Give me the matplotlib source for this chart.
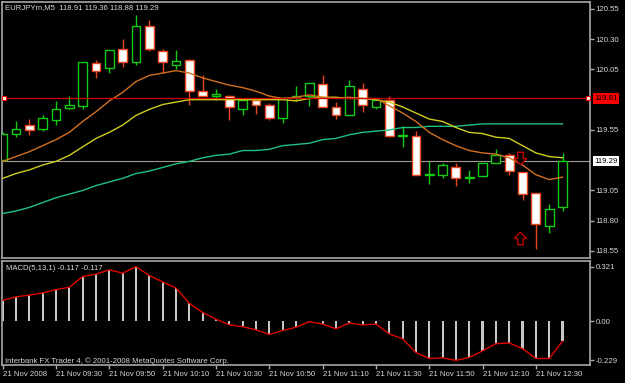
import matplotlib
matplotlib.use('Agg')
import matplotlib.pyplot as plt
from matplotlib.path import Path
import numpy as np

plt.rcParams['font.family'] = ['Liberation Sans', 'DejaVu Sans']

# EURJPYm M5, 21 Nov 2008, bars 09:10 .. 12:40
opens = [119.30, 119.52, 119.59, 119.56, 119.63, 119.73, 119.75, 120.10, 120.06, 120.22, 120.11,
         120.41, 120.20, 120.09, 120.13, 119.87, 119.83, 119.83, 119.72, 119.80, 119.76, 119.65,
         119.81, 119.83, 119.93, 119.74, 119.67, 119.89, 119.74, 119.80, 119.50, 119.50, 119.18,
         119.18, 119.24, 119.15, 119.17, 119.28, 119.34, 119.20, 119.03, 118.76, 118.91]
highs = [119.53, 119.62, 119.64, 119.67, 119.79, 119.83, 120.11, 120.13, 120.21, 120.30, 120.50,
         120.46, 120.22, 120.21, 120.14, 120.00, 119.89, 119.84, 119.81, 119.81, 119.77, 119.81,
         119.91, 119.94, 120.00, 119.78, 119.96, 119.94, 119.81, 119.83, 119.58, 119.54, 119.29,
         119.28, 119.28, 119.22, 119.28, 119.39, 119.36, 119.20, 119.03, 118.94, 119.36]
lows = [119.29, 119.49, 119.51, 119.54, 119.59, 119.72, 119.72, 119.98, 120.02, 120.07, 120.09,
        120.20, 120.02, 120.05, 119.76, 119.83, 119.80, 119.63, 119.67, 119.68, 119.63, 119.61,
        119.79, 119.75, 119.74, 119.64, 119.67, 119.70, 119.72, 119.49, 119.41, 119.18, 119.10,
        119.15, 119.09, 119.11, 119.16, 119.28, 119.18, 118.97, 118.57, 118.70, 118.88]
closes = [119.52, 119.56, 119.55, 119.65, 119.72, 119.76, 120.11, 120.04, 120.21, 120.11, 120.41,
          120.22, 120.11, 120.12, 119.87, 119.83, 119.85, 119.74, 119.80, 119.76, 119.65, 119.81,
          119.83, 119.94, 119.74, 119.67, 119.91, 119.76, 119.80, 119.50, 119.51, 119.18, 119.19,
          119.26, 119.15, 119.16, 119.28, 119.34, 119.21, 119.02, 118.77, 118.90, 119.29]

ma_fast = [119.29, 119.33, 119.37, 119.42, 119.47, 119.53, 119.62, 119.70, 119.79, 119.86, 119.95,
           120.00, 120.02, 120.04, 120.02, 119.98, 119.95, 119.92, 119.90, 119.87, 119.83, 119.81,
           119.82, 119.84, 119.82, 119.81, 119.82, 119.81, 119.81, 119.75, 119.69, 119.62, 119.53,
           119.47, 119.42, 119.38, 119.36, 119.35, 119.32, 119.26, 119.18, 119.14, 119.16]
ma_mid = [119.15, 119.19, 119.22, 119.26, 119.29, 119.34, 119.41, 119.48, 119.53, 119.59, 119.67,
          119.72, 119.76, 119.78, 119.80, 119.80, 119.80, 119.80, 119.80, 119.80, 119.80, 119.80,
          119.79, 119.81, 119.82, 119.82, 119.81, 119.81, 119.80, 119.78, 119.74, 119.69, 119.64,
          119.62, 119.57, 119.53, 119.52, 119.49, 119.48, 119.42, 119.36, 119.33, 119.32]
ma_slow = [118.86, 118.88, 118.91, 118.95, 118.99, 119.02, 119.05, 119.09, 119.12, 119.15, 119.19,
           119.21, 119.24, 119.27, 119.29, 119.32, 119.34, 119.35, 119.38, 119.38, 119.39, 119.42,
           119.43, 119.44, 119.47, 119.48, 119.51, 119.53, 119.54, 119.55, 119.57, 119.57, 119.58,
           119.58, 119.58, 119.59, 119.60, 119.60, 119.60, 119.60, 119.60, 119.60, 119.60]

macd = [0.123, 0.144, 0.154, 0.167, 0.186, 0.200, 0.263, 0.277, 0.302, 0.283, 0.321,
        0.269, 0.231, 0.196, 0.106, 0.052, 0.013, -0.021, -0.031, -0.050, -0.077, -0.054,
        -0.035, -0.002, -0.016, -0.044, -0.010, -0.021, -0.016, -0.073, -0.102, -0.183, -0.218,
        -0.214, -0.229, -0.212, -0.173, -0.131, -0.127, -0.160, -0.218, -0.218, -0.117]

price_ticks = [120.55, 120.30, 120.05, 119.55, 119.05, 118.80, 118.55]
macd_ticks = [0.321, 0.0, -0.229]
macd_tick_labels = ['0.321', '0.00', '-0.229']
hline_price = 119.81
bid_price = 119.29
arrow_bars = [38.8, 38.8]
arrow_prices = [119.32, 118.66]
time_tick_bars = [0, 4, 8, 12, 16, 20, 24, 28, 32, 36, 40]
time_tick_labels = ['21 Nov 2008', '21 Nov 09:30', '21 Nov 09:50', '21 Nov 10:10', '21 Nov 10:30',
                    '21 Nov 10:50', '21 Nov 11:10', '21 Nov 11:30', '21 Nov 11:50', '21 Nov 12:10',
                    '21 Nov 12:30']

FG = '#d8d8d8'
FRAME = '#a8a8a8'
UP = '#12cc12'
DOWN = '#e8461a'
FS = 5.6
W, H = 625.0, 383.0

# hollow block arrows (MT4 style)
down_arrow = Path([(-0.22, 0.5), (0.22, 0.5), (0.22, 0.0), (0.5, 0.0), (0.0, -0.5),
                   (-0.5, 0.0), (-0.22, 0.0), (-0.22, 0.5)], closed=True)
up_arrow = Path([(-0.22, -0.5), (0.22, -0.5), (0.22, 0.0), (0.5, 0.0), (0.0, 0.5),
                 (-0.5, 0.0), (-0.22, 0.0), (-0.22, -0.5)], closed=True)

fig = plt.figure(figsize=(6.25, 3.83), dpi=100, facecolor='black')
ax = fig.add_axes([2 / W, 1 - 258 / H, 588 / W, 256 / H])
ax2 = fig.add_axes([2 / W, 1 - 365 / H, 588 / W, 104 / H])

for a in (ax, ax2):
    a.set_facecolor('black')
    for s in a.spines.values():
        s.set_color(FRAME)
        s.set_linewidth(1.2)
    a.set_xlim(-0.05, 44.06)

# --- price panel
o = np.array(opens); c = np.array(closes)
x = np.arange(len(o))
up = c >= o
bottoms = np.minimum(o, c)
heights = np.maximum(np.abs(c - o), 0.004)
faces = ['black' if u else 'white' for u in up]
edges = [UP if u else DOWN for u in up]

ax.axhline(bid_price, color='#a09a90', lw=0.8, zorder=1)
ax.vlines(x, lows, highs, colors=edges, lw=1.0, zorder=2)
ax.bar(x, heights, bottom=bottoms, width=0.66, color=faces, edgecolor=edges, linewidth=1.0, zorder=3)

ax.plot(x, ma_slow, color='#20c080', lw=1.0, zorder=4)
ax.plot(x, ma_mid, color='#d0cc20', lw=1.0, zorder=4)
ax.plot(x, ma_fast, color='#d27020', lw=1.0, zorder=4)

ax.axhline(hline_price, xmin=0.004, xmax=0.997, color='#d00000', lw=0.9, zorder=5)
ax.plot([0.004, 0.997], [hline_price, hline_price], transform=ax.get_yaxis_transform(),
        ls='none', marker='s', ms=3.2, mfc='white', mec='#ff0000', mew=0.8, zorder=6)

ax.plot(arrow_bars[0], arrow_prices[0], marker=down_arrow, ms=9, mfc='black', mec='#c00000',
        mew=1.0, ls='none', zorder=6)
ax.plot(arrow_bars[1], arrow_prices[1], marker=up_arrow, ms=9, mfc='black', mec='#c00000',
        mew=1.0, ls='none', zorder=6)

ax.set_ylim(118.492, 120.607)
ax.set_xticks([])
ax.yaxis.tick_right()
ax.set_yticks(price_ticks)
ax.set_yticklabels([f'{v:.2f}' for v in price_ticks])
ax.tick_params(axis='y', colors=FRAME, labelcolor=FG, length=3, width=1, pad=1.2, labelsize=FS)

ax.annotate(f'{hline_price:.2f}', xy=(1, hline_price), xycoords=('axes fraction', 'data'),
            xytext=(3.2, 0), textcoords='offset points', ha='left', va='center', fontsize=FS,
            color='black', bbox=dict(boxstyle='square,pad=0.2', fc='#ff0000', ec='none'))
ax.annotate(f'{bid_price:.2f}', xy=(1, bid_price), xycoords=('axes fraction', 'data'),
            xytext=(3.2, 0), textcoords='offset points', ha='left', va='center', fontsize=FS,
            color='black', bbox=dict(boxstyle='square,pad=0.2', fc='white', ec='none'))

# --- MACD panel
ax2.bar(x, macd, width=0.16, color='#c8c8c8', zorder=2)
ax2.plot(x, macd, color='#e00000', lw=1.0, zorder=3)
ax2.set_ylim(-0.256, 0.354)
ax2.yaxis.tick_right()
ax2.set_yticks(macd_ticks)
ax2.set_yticklabels(macd_tick_labels)
ax2.set_xticks(time_tick_bars)
ax2.set_xticklabels(time_tick_labels)
ax2.tick_params(axis='both', colors=FRAME, labelcolor=FG, length=3, width=1, pad=1.2, labelsize=FS)
for lbl in ax2.get_xticklabels():
    lbl.set_ha('left')

fig.text(5 / W, 1 - 8 / H,
         f'EURJPYm,M5  {opens[-1]:.2f} {highs[-1]:.2f} {lows[-1]:.2f} {closes[-1]:.2f}',
         color=FG, fontsize=FS, va='center', ha='left')
fig.text(6 / W, 1 - 269 / H, f'MACD(5,13,1) {macd[-1]:.3f} {macd[-1]:.3f}',
         color=FG, fontsize=FS, va='center', ha='left')
fig.text(5 / W, 1 - 361 / H, 'Interbank FX Trader 4, \u00a9 2001-2008 MetaQuotes Software Corp.',
         color=FG, fontsize=FS, va='center', ha='left')

fig.savefig('out.png', dpi=100, facecolor='black')
